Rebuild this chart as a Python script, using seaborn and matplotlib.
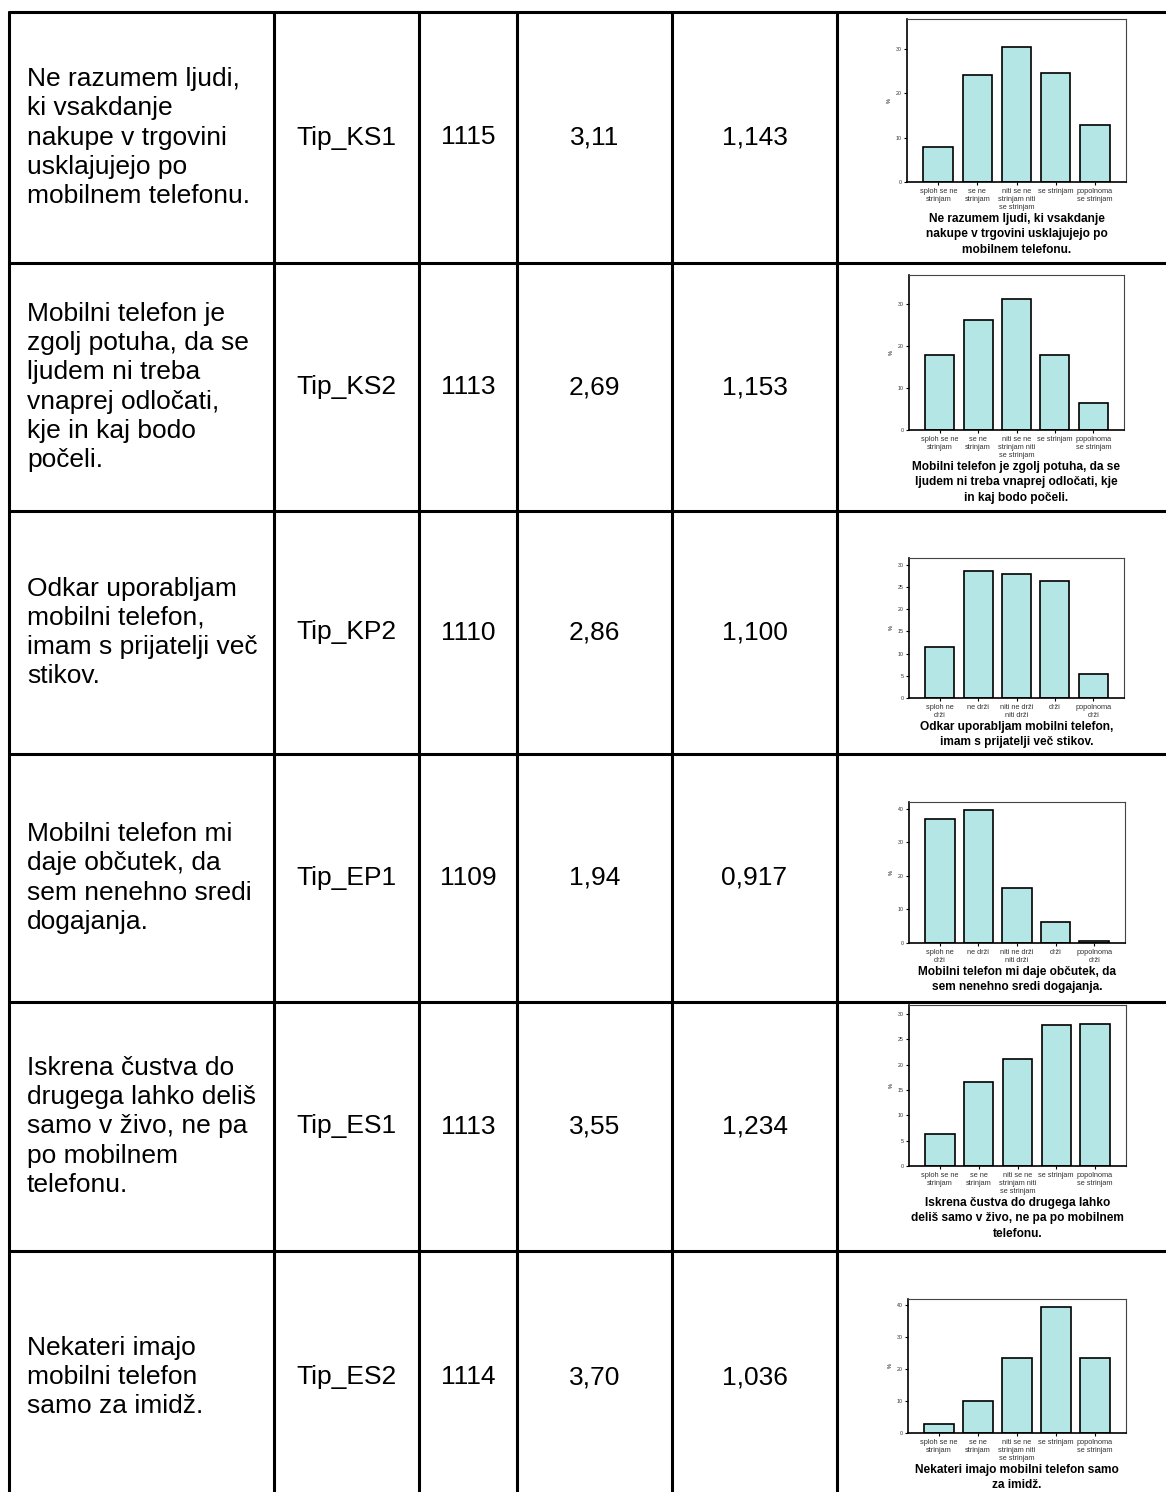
import pandas as pd
import matplotlib
matplotlib.use("Agg")
import matplotlib.pyplot as plt
import seaborn as sns

sns.set_style("white")
plt.rcParams["font.family"] = ["Liberation Sans", "DejaVu Sans"]
plt.rcParams["text.color"] = "black"
plt.rcParams["axes.labelcolor"] = "black"

W, H = 1166, 1492

# table content
statements = [
    "Ne razumem ljudi,\nki vsakdanje\nnakupe v trgovini\nusklajujejo po\nmobilnem telefonu.",
    "Mobilni telefon je\nzgolj potuha, da se\nljudem ni treba\nvnaprej odločati,\nkje in kaj bodo\npočeli.",
    "Odkar uporabljam\nmobilni telefon,\nimam s prijatelji več\nstikov.",
    "Mobilni telefon mi\ndaje občutek, da\nsem nenehno sredi\ndogajanja.",
    "Iskrena čustva do\ndrugega lahko deliš\nsamo v živo, ne pa\npo mobilnem\ntelefonu.",
    "Nekateri imajo\nmobilni telefon\nsamo za imidž.",
]
codes = ["Tip_KS1", "Tip_KS2", "Tip_KP2", "Tip_EP1", "Tip_ES1", "Tip_ES2"]
n_valid = ["1115", "1113", "1110", "1109", "1113", "1114"]
means = ["3,11", "2,69", "2,86", "1,94", "3,55", "3,70"]
sds = ["1,143", "1,153", "1,100", "0,917", "1,234", "1,036"]

chart_titles = [
    "Ne razumem ljudi, ki vsakdanje\nnakupe v trgovini usklajujejo po\nmobilnem telefonu.",
    "Mobilni telefon je zgolj potuha, da se\nljudem ni treba vnaprej odločati, kje\nin kaj bodo počeli.",
    "Odkar uporabljam mobilni telefon,\nimam s prijatelji več stikov.",
    "Mobilni telefon mi daje občutek, da\nsem nenehno sredi dogajanja.",
    "Iskrena čustva do drugega lahko\ndeliš samo v živo, ne pa po mobilnem\ntelefonu.",
    "Nekateri imajo mobilni telefon samo\nza imidž.",
]

agree_labels = ["sploh se ne\nstrinjam", "se ne\nstrinjam", "niti se ne\nstrinjam niti\nse strinjam",
                "se strinjam", "popolnoma\nse strinjam"]
true_labels = ["sploh ne\ndrži", "ne drži", "niti ne drži\nniti drži", "drži", "popolnoma\ndrži"]

# percentages
pct_ks1 = [7.9, 24.1, 30.4, 24.6, 12.9]
pct_ks2 = [17.8, 26.3, 31.3, 17.8, 6.5]
pct_kp2 = [11.5, 28.6, 28.0, 26.4, 5.5]
pct_ep1 = [37.0, 39.6, 16.5, 6.2, 0.7]
pct_es1 = [6.3, 16.5, 21.2, 27.8, 28.1]
pct_es2 = [2.9, 10.1, 23.4, 39.4, 23.6]

percents = [pct_ks1, pct_ks2, pct_kp2, pct_ep1, pct_es1, pct_es2]
cat_sets = [agree_labels, agree_labels, true_labels, true_labels, agree_labels, agree_labels]
y_steps = [10, 10, 5, 10, 5, 10]
y_tops = [36.8, 36.9, 31.5, 42, 31.8, 42]

# layout in pixels
row_lines = [12, 263, 511, 754, 1002, 1251, 1503]
col_lines = [9, 274, 419, 517, 672, 837, 1180]
chart_boxes = [(907, 19, 1126, 182), (909, 275, 1124, 430), (909, 558, 1124, 698),
               (909, 802, 1125, 943), (909, 1005, 1126, 1166), (908, 1299, 1126, 1433)]

fig = plt.figure(figsize=(W / 100, H / 100), dpi=100)

for y in row_lines:
    fig.add_artist(plt.Line2D([col_lines[0] / W, 1], [1 - y / H, 1 - y / H], color="black", lw=2.2))
for x in col_lines:
    fig.add_artist(plt.Line2D([x / W, x / W], [1 - row_lines[0] / H, 0], color="black", lw=2.2))

for i in range(6):
    yc = 1 - (row_lines[i] + row_lines[i + 1]) / 2 / H
    if i == 5:
        yc = 1 - 1377 / H
    fig.text(27 / W, yc, statements[i], fontsize=19, ha="left", va="center", linespacing=1.28)
    for j, val in enumerate([codes[i], n_valid[i], means[i], sds[i]]):
        xc = (col_lines[j + 1] + col_lines[j + 2]) / 2 / W
        fig.text(xc, yc, val, fontsize=19, ha="center", va="center")

    x0, y0, x1, y1 = chart_boxes[i]
    ax = fig.add_axes([x0 / W, 1 - y1 / H, (x1 - x0) / W, (y1 - y0) / H])
    df = pd.DataFrame({"odgovor": cat_sets[i], "pct": percents[i]})
    sns.barplot(data=df, x="odgovor", y="pct", color="#b4e6e6", edgecolor="black",
                linewidth=1.2, width=0.76, saturation=1, ax=ax)
    ax.set_xlim(-0.8, 4.8)
    ax.set_ylim(0, y_tops[i])
    ax.set_yticks(range(0, int(y_tops[i]) + 1, y_steps[i]))
    ax.tick_params(axis="both", length=2.5, width=0.8, pad=1.5, labelsize=5.3,
                   labelcolor="#333333", color="black", bottom=True, left=True)
    ax.tick_params(axis="y", labelsize=3.8)
    ax.set_ylabel("%", fontsize=4, labelpad=3)
    ax.set_xlabel(chart_titles[i], fontsize=8.6, fontweight="bold", labelpad=2, linespacing=1.35)
    for side in ["left", "bottom"]:
        ax.spines[side].set_color("black")
        ax.spines[side].set_linewidth(1.2)
    for side in ["top", "right"]:
        ax.spines[side].set_color("#444444")
        ax.spines[side].set_linewidth(0.8)

fig.savefig("out.png", dpi=100, facecolor="white")
